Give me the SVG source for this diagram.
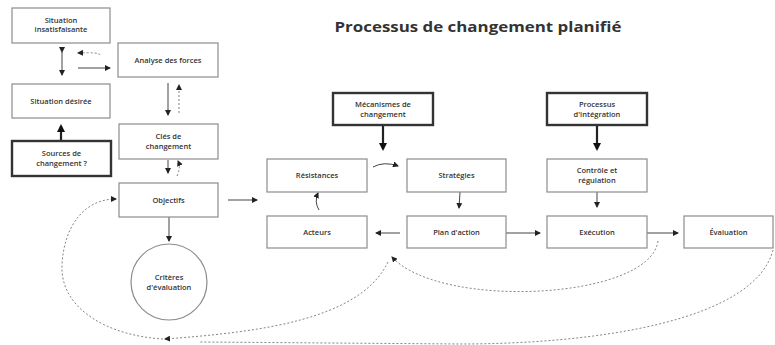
<svg xmlns="http://www.w3.org/2000/svg" width="775" height="345" viewBox="0 0 775 345">
<style>
.box{fill:#fff;stroke:#8c8c8c;stroke-width:1.2}
.thick{fill:#fff;stroke:#333;stroke-width:2.4}
.t{font-family:"Open Sans","DejaVu Sans",sans-serif;font-size:7.5px;font-weight:600;fill:#333;text-anchor:middle}
.title{font-family:"Open Sans","DejaVu Sans",sans-serif;font-size:14px;font-weight:700;fill:#333;text-anchor:middle}
.ln{fill:none;stroke:#444;stroke-width:1}
.bold{fill:none;stroke:#222;stroke-width:2.2}
.dash{fill:none;stroke:#777;stroke-width:0.9;stroke-dasharray:2 2}
</style>
<defs>
<marker id="ah" markerWidth="6" markerHeight="6" refX="5" refY="3" orient="auto" markerUnits="userSpaceOnUse"><path d="M0,0 L6,3 L0,6 z" fill="#222"/></marker>
<marker id="ahs" markerWidth="6" markerHeight="6" refX="1" refY="3" orient="auto-start-reverse" markerUnits="userSpaceOnUse"><path d="M0,0 L6,3 L0,6 z" fill="#222" transform="rotate(180 3 3)"/></marker>
<marker id="ahb" markerWidth="8" markerHeight="8" refX="6" refY="4" orient="auto" markerUnits="userSpaceOnUse"><path d="M0,0 L8,4 L0,8 z" fill="#111"/></marker>
</defs>
<rect width="775" height="345" fill="#fff"/>
<text class="title" x="478" y="32" textLength="287" lengthAdjust="spacingAndGlyphs">Processus de changement planifié</text>

<g id="connectors">
<line class="ln" x1="62" y1="52" x2="62" y2="75" marker-start="url(#ahs)" marker-end="url(#ah)"/>
<path class="dash" d="M100,55 Q99,52 78,53" marker-end="url(#ah)"/>
<line class="ln" x1="78" y1="68" x2="110" y2="68" marker-end="url(#ah)"/>
<line class="ln" x1="168" y1="83" x2="168" y2="115" marker-end="url(#ah)"/>
<line class="dash" x1="179" y1="113" x2="179" y2="85" marker-end="url(#ah)"/>
<line class="ln" x1="168" y1="160" x2="168" y2="173" marker-end="url(#ah)"/>
<path class="dash" d="M177,176 Q181,168 178,161" marker-end="url(#ah)"/>
<line class="bold" x1="61" y1="141" x2="61" y2="126" marker-end="url(#ahb)"/>
<line class="ln" x1="228" y1="200" x2="257" y2="200" marker-end="url(#ah)"/>
<line class="ln" x1="169" y1="217" x2="169" y2="241" marker-end="url(#ah)"/>
<line class="bold" x1="383" y1="125" x2="383" y2="149" marker-end="url(#ahb)"/>
<line class="bold" x1="597" y1="125" x2="597" y2="149" marker-end="url(#ahb)"/>
<path class="ln" d="M373,167 Q384,161 398,166" marker-end="url(#ah)"/>
<path class="ln" d="M460,192 L459,208" marker-end="url(#ah)"/>
<path class="ln" d="M319,210 Q314,202 318,193" marker-end="url(#ah)"/>
<line class="ln" x1="400" y1="233" x2="376" y2="233" marker-end="url(#ah)"/>
<line class="ln" x1="506" y1="233" x2="540" y2="233" marker-end="url(#ah)"/>
<line class="ln" x1="647" y1="233" x2="678" y2="233" marker-end="url(#ah)"/>
<line class="ln" x1="597" y1="192" x2="597" y2="207" marker-end="url(#ah)"/>
<path class="dash" d="M658,241 C650,300 440,310 392,257" marker-end="url(#ah)"/>
<path class="dash" d="M388,262 C360,320 260,332 165,339" marker-end="url(#ah)"/>
<path class="dash" d="M773,250 C755,320 600,344 460,344 L200,342"/>
<path class="dash" d="M163,339 C110,336 60,310 62,265 C64,225 85,199 116,199" marker-end="url(#ah)"/>
</g>

<g id="n-situation-insatisfaisante"><rect class="box" x="12" y="8" width="98" height="35"/><text class="t" x="61" y="23">Situation</text><text class="t" x="61" y="32">insatisfaisante</text></g>
<g id="n-analyse"><rect class="box" x="118" y="43" width="100" height="34"/><text class="t" x="168" y="63">Analyse des forces</text></g>
<g id="n-situation-desiree"><rect class="box" x="12" y="84" width="98" height="34"/><text class="t" x="61" y="104">Situation désirée</text></g>
<g id="n-sources"><rect class="thick" x="12" y="141" width="99" height="35"/><text class="t" x="61.5" y="156">Sources de</text><text class="t" x="61.5" y="166">changement ?</text></g>
<g id="n-cles"><rect class="box" x="119" y="124" width="99" height="35"/><text class="t" x="168.5" y="139">Clés de</text><text class="t" x="168.5" y="149">changement</text></g>
<g id="n-objectifs"><rect class="box" x="119" y="183" width="99" height="34"/><text class="t" x="168.5" y="203">Objectifs</text></g>
<g id="n-criteres"><circle class="box" cx="169" cy="282" r="38"/><text class="t" x="169" y="280">Critères</text><text class="t" x="169" y="290">d'évaluation</text></g>
<g id="n-mecanismes"><rect class="thick" x="333" y="93" width="100" height="32"/><text class="t" x="383" y="107">Mécanismes de</text><text class="t" x="383" y="117">changement</text></g>
<g id="n-resistances"><rect class="box" x="267" y="159" width="100" height="33"/><text class="t" x="317" y="178">Résistances</text></g>
<g id="n-strategies"><rect class="box" x="407" y="159" width="99" height="33"/><text class="t" x="456.5" y="178">Stratégies</text></g>
<g id="n-acteurs"><rect class="box" x="267" y="216" width="100" height="32"/><text class="t" x="317" y="235">Acteurs</text></g>
<g id="n-plan"><rect class="box" x="407" y="216" width="99" height="32"/><text class="t" x="456.5" y="235">Plan d'action</text></g>
<g id="n-processus"><rect class="thick" x="547" y="93" width="100" height="32"/><text class="t" x="597" y="107">Processus</text><text class="t" x="597" y="117">d'intégration</text></g>
<g id="n-controle"><rect class="box" x="547" y="159" width="100" height="33"/><text class="t" x="597" y="173">Contrôle et</text><text class="t" x="597" y="183">régulation</text></g>
<g id="n-execution"><rect class="box" x="547" y="216" width="100" height="32"/><text class="t" x="597" y="235">Exécution</text></g>
<g id="n-evaluation"><rect class="box" x="684" y="216" width="89" height="32"/><text class="t" x="728.5" y="235">Évaluation</text></g>
</svg>
